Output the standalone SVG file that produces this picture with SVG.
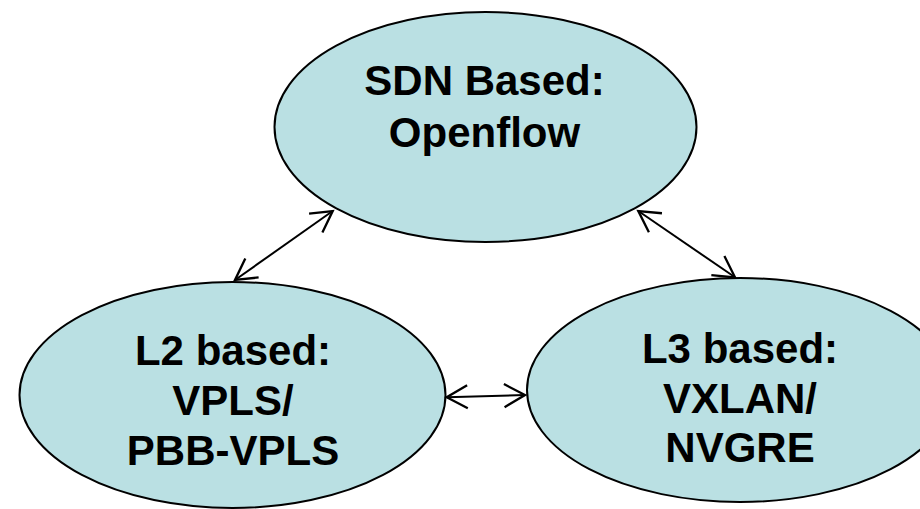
<svg xmlns="http://www.w3.org/2000/svg" width="920" height="509" viewBox="0 0 920 509">
  <style>
    .node ellipse { fill: #bae0e3; stroke: #000; stroke-width: 2; }
    .node text { font-family: "Liberation Sans", Arial, sans-serif; font-weight: bold; font-size: 42px; text-anchor: middle; fill: #000; }
    .link { stroke: #000; stroke-width: 2; fill: none; marker-start: url(#open); marker-end: url(#open); }
  </style>
  <defs>
    <marker id="open" markerUnits="userSpaceOnUse" markerWidth="30" markerHeight="30" viewBox="-22 -12 26 24" refX="0" refY="0" orient="auto-start-reverse" overflow="visible">
      <path d="M -18 -10 L 0 0 L -18 10" fill="none" stroke="#000" stroke-width="2"/>
    </marker>
  </defs>
  <rect width="920" height="509" fill="#fff"/>

  <g id="sdn" class="node">
    <ellipse cx="485.5" cy="127" rx="211" ry="115"/>
    <text x="484.5" y="95">SDN Based:</text>
    <text x="484.5" y="147">Openflow</text>
  </g>

  <g id="l2" class="node">
    <ellipse cx="232.5" cy="395" rx="213" ry="113"/>
    <text x="233" y="365">L2 based:</text>
    <text x="233" y="415">VPLS/</text>
    <text x="233" y="465">PBB-VPLS</text>
  </g>

  <g id="l3" class="node">
    <ellipse cx="740" cy="390" rx="213" ry="112"/>
    <text x="740" y="363">L3 based:</text>
    <text x="740" y="413">VXLAN/</text>
    <text x="740" y="462">NVGRE</text>
  </g>

  <g id="connectors">
    <line class="link" x1="235" y1="280" x2="332.7" y2="211"/>
    <line class="link" x1="638.3" y1="211" x2="735" y2="277.3"/>
    <line class="link" x1="446.7" y1="397.3" x2="525" y2="395"/>
  </g>
</svg>
